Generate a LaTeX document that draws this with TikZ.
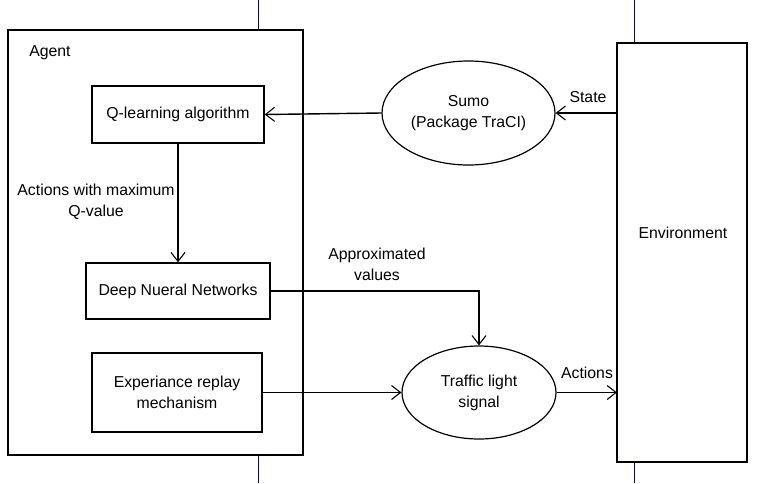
\documentclass[tikz,border=0pt]{standalone}
\usepackage{fontspec}
\setmainfont{Liberation Sans}
\usetikzlibrary{arrows.meta,shapes.geometric}
\begin{document}
\begin{tikzpicture}[x=1pt,y=-1pt,
  every node/.style={font=\fontsize{15.8}{21}\selectfont, inner sep=0pt},
  box/.style={draw, line width=1.4pt},
  ell/.style={draw, ellipse, line width=1.2pt},
  conn/.style={line width=1.4pt},
  arr/.style={conn, -{Straight Barb[length=9pt,width=14pt,line width=1.1pt]}},
  guide/.style={draw=blue!70!black, line width=0.6pt},
  lbl/.style={align=center}]
\useasboundingbox (0,0) rectangle (768,483);
\fill[white] (0,0) rectangle (768,483);
% guide lines
\draw[guide] (258,0) -- (258,30);
\draw[guide] (258,455) -- (258,483);
\draw[guide] (634,0) -- (634,43);
\draw[guide] (634,462) -- (634,483);
% agent box
\node[box, minimum width=295pt, minimum height=425pt] (agent) at (155.5,242.5) {};
\node (agentlbl) at (50,53) {Agent};
% environment
\node[box, minimum width=130pt, minimum height=419pt] (env) at (682,252.5) {};
\node (envlbl) at (683,233) {Environment};
% inner boxes
\node[box, minimum width=172pt, minimum height=57pt] (ql) at (178,114.5) {Q-learning algorithm};
\node[box, minimum width=184pt, minimum height=56pt] (dnn) at (178,291) {Deep Nueral Networks};
\node[box, minimum width=170pt, minimum height=79pt, lbl] (exp) at (177,392.5) {Experiance replay\\mechanism};
% ellipses
\node[ell, minimum width=173pt, minimum height=104pt, lbl] (sumo) at (468.5,113) {Sumo\\(Package TraCI)};
\node[ell, minimum width=154pt, minimum height=93pt, lbl] (tl) at (479,392.5) {Traffic light\\signal};
% connectors
\coordinate (envstate) at (617,113);
\coordinate (envact) at (617,392.5);
\draw[arr] (envstate) -- (sumo.east);
\node (statelbl) at (588,97) {State};
\draw[arr] (sumo.west) -- (ql.east);
\draw[arr] (ql.south) -- (dnn.north);
\node[lbl] (awm) at (96,202) {Actions with maximum\\Q-value};
\draw[arr] (dnn.east) -| (tl.north);
\node[lbl] (apv) at (377,264) {Approximated\\values};
\draw[arr] (exp.east) -- (tl.west);
\draw[arr] (tl.east) -- (envact);
\node (actlbl) at (587,373) {Actions};
\end{tikzpicture}
\end{document}
